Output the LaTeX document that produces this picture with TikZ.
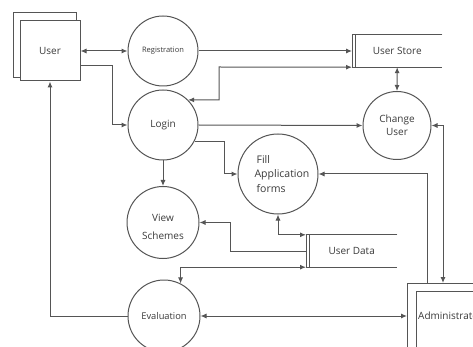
\documentclass[tikz,border=0pt]{standalone}
\usepackage{fontspec}
\setmainfont{Open Sans}
\usetikzlibrary{arrows.meta,calc}
\definecolor{lc}{HTML}{555555}
\definecolor{tc}{HTML}{3A3A3A}
\begin{document}
\begin{tikzpicture}[x=1pt,y=-1pt,
  line/.style={draw=lc, line width=1pt},
  arr/.style={line, -{Latex[length=6pt,width=5pt]}},
  darr/.style={line, {Latex[length=6pt,width=5pt]}-{Latex[length=6pt,width=5pt]}},
  ent/.style={rectangle, draw=lc, line width=1pt, inner sep=0pt, text=tc},
  proc/.style={circle, draw=lc, line width=1pt, minimum size=#1, inner sep=0pt, text=tc, align=center},
  store/.style={rectangle, inner sep=0pt, text=tc, anchor=west},
  font=\fontsize{10}{12}\selectfont]
\useasboundingbox (0,0) rectangle (473,347);
\clip (0,0) rectangle (473,347);
\fill[white] (0,0) rectangle (473,347);

% entities
\node[ent, minimum width=63, minimum height=65] (userb) at (44.5,45.5) {};
\node[ent, fill=white, minimum width=60, minimum height=60] (user) at (50,51) {User};
\node[ent, minimum width=80, minimum height=66, anchor=north west] (adminb) at (407,283) {};
\node[ent, fill=white, minimum width=80, minimum height=66, anchor=north west] (admin) at (416,291) {};
\node[anchor=west, inner sep=1pt, text=tc] (admintext) at (417,316) {Administrator};

% processes
\node[proc=70] (reg) at (163,51) {\fontsize{7.5}{9}\selectfont Registration};
\node[proc=70] (login) at (163,125) {Login};
\node[proc=68, font=\fontsize{10}{13}\selectfont] (change) at (397,125.5) {Change\\User};
\node[proc=80, label={[xshift=4pt, align=left, text=tc, font=\fontsize{10.5}{14.5}\selectfont]center:\hspace{2pt}Fill\\Application\\\hspace{2pt}forms}] (fill) at (278,174) {};
\node[proc=72, label={[yshift=-4.5pt, align=center, text=tc, font=\fontsize{10}{18}\selectfont]center:View\\Schemes}] (view) at (163,222.5) {};
\node[proc=72, font=\fontsize{9.3}{11}\selectfont] (eval) at (164,316) {Evaluation};

% data stores
\node[store, minimum width=90, minimum height=32] (ustore) at (352,51) {User Store};
\draw[line] (ustore.north east) -- (ustore.north west) -- (ustore.south west) -- (ustore.south east);
\draw[line] ($(ustore.north west)+(3,0)$) -- ($(ustore.south west)+(3,0)$);
\node[store, minimum width=91, minimum height=32] (udata) at (306,251) {User Data};
\draw[line] (udata.north east) -- (udata.north west) -- (udata.south west) -- (udata.south east);
\draw[line] ($(udata.north west)+(3,0)$) -- ($(udata.south west)+(3,0)$);

% flows
\draw[darr] (user.east) -- (reg.west);
\draw[arr] (user.east |- 0,66) -- (112,66) |- (login.west);
\draw[arr] (reg.east) -- (ustore.west);
\draw[darr] (ustore.south west) -- (219,67) |- (login.45);
\draw[darr] (ustore.south) -- (change.north);
\draw[arr] (login.east) -- (change.west);
\draw[darr] (change.east) -| ($(adminb.north west)+(36,0)$);
\draw[arr] ($(adminb.north west)+(20,0)$) |- (fill.east);
\draw[arr] (login.-27) -| ($(fill.west)+(-13,0)$) -- (fill.west);
\draw[arr] (login.south) -- (view.north);
\draw[darr] (fill.south) |- (udata.north west);
\draw[arr] (udata.west) -- ++(-76,0) |- (view.east);
\draw[darr] (udata.south west) -| (eval.63);
\draw[arr] (eval.west) -| (user.south);
\draw[darr] (eval.east) -- (eval.east -| adminb.west);
\end{tikzpicture}
\end{document}
